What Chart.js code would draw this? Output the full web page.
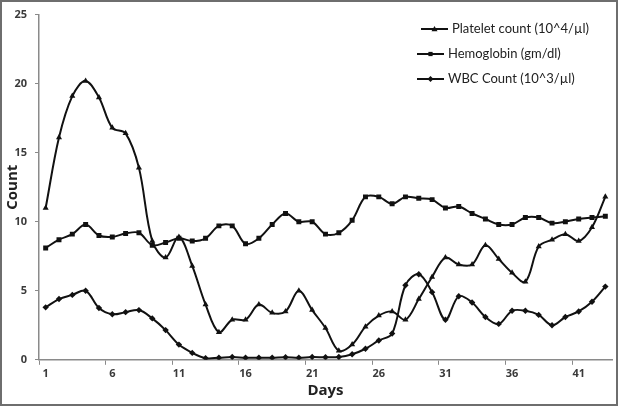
<!DOCTYPE html>
<html>
<head>
<meta charset="utf-8">
<script src="https://cdn.jsdelivr.net/npm/chart.js@4"></script>
<style>
  html, body { margin: 0; padding: 0; background: #fff; }
  #wrap { width: 618px; height: 406px; position: relative; }
</style>
</head>
<body>
<div id="wrap"><canvas id="chart"></canvas></div>
<script>
// Day numbers on the x axis
const days = [];
for (let d = 1; d <= 43; d++) days.push(String(d));

const plateletCount = [11.0, 16.1, 19.1, 20.2, 19.0, 16.8, 16.4, 13.9, 8.6, 7.4,
    8.9, 6.8, 4.0, 2.0, 2.9, 2.9, 4.0, 3.4, 3.5, 5.0,
    3.6, 2.3, 0.65, 1.1, 2.4, 3.2, 3.5, 2.9, 4.4, 6.0,
    7.4, 6.9, 6.9, 8.3, 7.3, 6.3, 5.65, 8.2, 8.7, 9.1,
    8.6, 9.6, 11.8];

const hemoglobin = [8.1, 8.7, 9.1, 9.8, 9.0, 8.9, 9.15, 9.2, 8.3, 8.5,
    8.8, 8.6, 8.8, 9.7, 9.7, 8.4, 8.8, 9.8, 10.6, 10.0,
    10.0, 9.1, 9.2, 10.1, 11.8, 11.8, 11.3, 11.8, 11.7, 11.6,
    11.0, 11.1, 10.6, 10.2, 9.8, 9.8, 10.3, 10.3, 9.9, 10.0,
    10.2, 10.3, 10.4];

const wbcCount = [3.8, 4.4, 4.7, 5.0, 3.75, 3.3, 3.45, 3.6, 3.0, 2.15,
    1.1, 0.5, 0.12, 0.15, 0.2, 0.15, 0.15, 0.15, 0.18, 0.15,
    0.2, 0.18, 0.2, 0.4, 0.8, 1.4, 1.9, 5.4, 6.2, 4.9,
    2.9, 4.6, 4.15, 3.1, 2.6, 3.55, 3.55, 3.25, 2.5, 3.1,
    3.5, 4.2, 5.3];

const seriesLabels = ['Platelet count (10^4/\u00b5l)', 'Hemoglobin (gm/dl)', 'WBC Count (10^3/\u00b5l)'];

const axisGray = '#8a8a8a';
const labelColor = '#3a3a3a';

function makeSeries(label, values, style, radius) {
    return {
        label: label,
        data: values,
        borderColor: '#111',
        backgroundColor: '#111',
        borderWidth: 2,
        tension: 0.35,
        pointStyle: style,
        pointRadius: radius,
        pointBorderWidth: 0,
        pointBackgroundColor: '#111'
    };
}

// draws the marker used in the legend
function drawMarker(ctx, style, x, y, r) {
    ctx.beginPath();
    if (style === 'triangle') {
        ctx.moveTo(x, y - r);
        ctx.lineTo(x + r, y + r * 0.75);
        ctx.lineTo(x - r, y + r * 0.75);
    } else if (style === 'rect') {
        const s = r * Math.SQRT1_2;
        ctx.rect(x - s, y - s, 2 * s, 2 * s);
    } else {
        ctx.moveTo(x, y - r);
        ctx.lineTo(x + r, y);
        ctx.lineTo(x, y + r);
        ctx.lineTo(x - r, y);
    }
    ctx.closePath();
    ctx.fill();
}

const sideLegend = {
    id: 'sideLegend',
    afterDraw(chart) {
        const ctx = chart.ctx;
        ctx.save();
        chart.data.datasets.forEach((ds, i) => {
            const y = 29 + i * 25;
            const x0 = i === 0 ? 421 : 417;
            ctx.strokeStyle = '#111';
            ctx.fillStyle = '#111';
            ctx.lineWidth = 2;
            ctx.beginPath();
            ctx.moveTo(x0, y);
            ctx.lineTo(x0 + 27, y);
            ctx.stroke();
            drawMarker(ctx, ds.pointStyle, x0 + 13.5, y, 3);
            ctx.fillStyle = '#222';
            ctx.font = '13px Lato';
            ctx.textBaseline = 'middle';
            ctx.fillText(ds.label, x0 + 31, y);
        });
        ctx.restore();
    }
};

const frame = {
    id: 'frame',
    afterDraw(chart) {
        const ctx = chart.ctx;
        ctx.save();
        ctx.strokeStyle = '#6e6e6e';
        ctx.lineWidth = 2;
        ctx.strokeRect(1, 1, chart.width - 2, chart.height - 2);
        ctx.restore();
    }
};

new Chart(document.getElementById('chart'), {
    type: 'line',
    data: {
        labels: days,
        datasets: [
            makeSeries(seriesLabels[0], plateletCount, 'triangle', 3.5),
            makeSeries(seriesLabels[1], hemoglobin, 'rect', 3.5),
            makeSeries(seriesLabels[2], wbcCount, 'rectRot', 3.2)
        ]
    },
    options: {
        responsive: true,
        maintainAspectRatio: false,
        animation: false,
        layout: {
            padding: { top: 14, right: 6, left: 4, bottom: 6 }
        },
        plugins: {
            legend: { display: false },
            tooltip: { enabled: false }
        },
        scales: {
            x: {
                offset: true,
                border: { color: axisGray, width: 1.5 },
                grid: {
                    offset: true,
                    drawOnChartArea: false,
                    tickLength: 5,
                    color: (c) => (c.index % 5 === 0 ? axisGray : 'rgba(0,0,0,0)')
                },
                ticks: {
                    autoSkip: false,
                    maxRotation: 0,
                    color: labelColor,
                    font: { family: 'Open Sans', weight: 'bold', size: 11 },
                    padding: 2,
                    callback: function (value, index) {
                        return index % 5 === 0 ? this.getLabelForValue(value) : '';
                    }
                },
                title: {
                    display: true,
                    text: 'Days',
                    color: '#222',
                    font: { family: 'Open Sans', weight: 'bold', size: 15 },
                    padding: { top: 0, bottom: 0 }
                }
            },
            y: {
                min: 0,
                max: 25,
                afterFit: (scale) => { scale.width = 35; },
                border: { color: axisGray, width: 1.5 },
                grid: {
                    drawOnChartArea: false,
                    tickLength: 4,
                    color: axisGray
                },
                ticks: {
                    stepSize: 5,
                    color: labelColor,
                    font: { family: 'Open Sans', weight: 'bold', size: 11 },
                    padding: 8
                },
                title: {
                    display: true,
                    text: 'Count',
                    color: '#222',
                    font: { family: 'Open Sans', weight: 'bold', size: 15 },
                    padding: { top: 0, bottom: 0 }
                }
            }
        }
    },
    plugins: [sideLegend, frame]
});
</script>
</body>
</html>
